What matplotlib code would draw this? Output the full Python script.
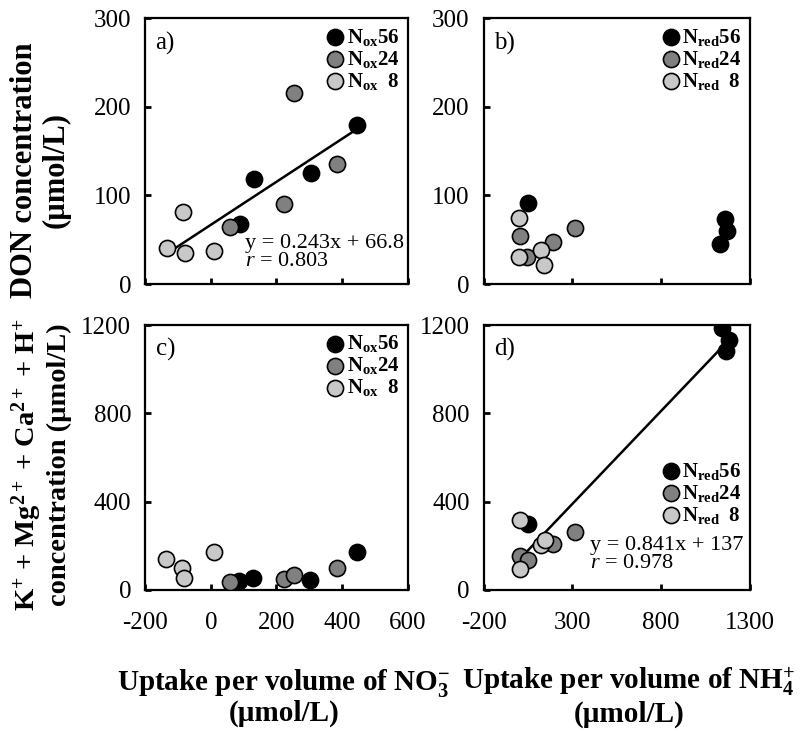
import numpy as np
import matplotlib
matplotlib.use('Agg')
import matplotlib.pyplot as plt

plt.rcParams['font.family'] = ['Liberation Serif', 'DejaVu Serif']
plt.rcParams['mathtext.fontset'] = 'custom'
plt.rcParams['mathtext.rm'] = 'Liberation Serif'
plt.rcParams['mathtext.it'] = 'Liberation Serif:italic'
plt.rcParams['mathtext.bf'] = 'Liberation Serif:bold'
plt.rcParams['axes.unicode_minus'] = False

# ---- data ----
# a) DON vs NO3- uptake
a_x56 = [88, 131, 305, 446]
a_y56 = [68, 119, 125, 180]
a_x24 = [60, 222, 254, 384]
a_y24 = [64, 90, 216, 135]
a_x8 = [-134, -86, -79, 9]
a_y8 = [41, 81, 35, 37]

# b) DON vs NH4+ uptake
b_x56 = [49, 1159, 1174, 1136]
b_y56 = [92, 73, 60, 45]
b_x24 = [6, 44, 191, 314]
b_y24 = [54, 30, 48, 63]
b_x8 = [2, 2, 121, 138]
b_y8 = [74, 30, 38, 21]

# c) cations vs NO3- uptake
c_x56 = [86, 128, 301, 444]
c_y56 = [41, 53, 45, 171]
c_x24 = [60, 222, 254, 384]
c_y24 = [38, 50, 66, 98]
c_x8 = [-136, -87, -82, 9]
c_y8 = [140, 101, 53, 171]

# d) cations vs NH4+ uptake
d_x56 = [1146, 1183, 1165, 49]
d_y56 = [1185, 1131, 1081, 298]
d_x24 = [6, 49, 191, 318]
d_y24 = [154, 134, 208, 261]
d_x8 = [6, 8, 121, 146]
d_y8 = [318, 96, 203, 226]

fit_a = (0.243, 66.8, 0.803)
fit_d = (0.841, 137, 0.978)

colors = ['black', '#808080', '#c8c8c8']
lab_ox = [r'$\mathbf{N_{ox}56}$', r'$\mathbf{N_{ox}24}$', r'$\mathbf{N_{ox}\ \ 8}$']
lab_red = [r'$\mathbf{N_{red}56}$', r'$\mathbf{N_{red}24}$', r'$\mathbf{N_{red}\ \ 8}$']

fig = plt.figure(figsize=(8.06, 7.32), dpi=100)
ax_a = fig.add_axes([0.180, 0.612, 0.326, 0.363])
ax_b = fig.add_axes([0.600, 0.612, 0.330, 0.363])
ax_c = fig.add_axes([0.180, 0.194, 0.326, 0.362])
ax_d = fig.add_axes([0.600, 0.194, 0.330, 0.362])


def draw(ax, xs, ys, labels, letter):
    for x, y, c, l in zip(xs, ys, colors, labels):
        ax.scatter(x, y, s=135, c=c, edgecolors='black', linewidths=1.2, label=l, zorder=3)
    ax.text(0.04, 0.95, letter, transform=ax.transAxes, fontsize=18, va='top', ha='left')
    for s in ax.spines.values():
        s.set_linewidth(1.6)
    ax.tick_params(direction='in', length=4, width=2, labelsize=18, top=False, right=False)
    ax.tick_params(axis='y', pad=10)
    ax.tick_params(axis='x', pad=16)


def fitline(ax, xs, fit, pos):
    allx = np.concatenate([np.asarray(v) for v in xs])
    xx = np.array([allx.min(), allx.max()])
    ax.plot(xx, fit[0] * xx + fit[1], color='black', lw=1.8, zorder=2)
    ax.text(pos[0], pos[1], 'y = %.3gx + %g\n$r$ = %.3f' % (fit[0], fit[1], fit[2]),
            transform=ax.transAxes, fontsize=16, va='top', ha='left', linespacing=0.95)


draw(ax_a, [a_x56, a_x24, a_x8], [a_y56, a_y24, a_y8], lab_ox, 'a)')
draw(ax_b, [b_x56, b_x24, b_x8], [b_y56, b_y24, b_y8], lab_red, 'b)')
draw(ax_c, [c_x56, c_x24, c_x8], [c_y56, c_y24, c_y8], lab_ox, 'c)')
draw(ax_d, [d_x56, d_x24, d_x8], [d_y56, d_y24, d_y8], lab_red, 'd)')

fitline(ax_a, [a_x56, a_x24, a_x8], fit_a, (0.38, 0.19))
fitline(ax_d, [d_x56, d_x24, d_x8], fit_d, (0.40, 0.205))

for ax in (ax_a, ax_c):
    ax.set_xlim(-200, 600)
    ax.set_xticks([-200, 0, 200, 400, 600])
for ax in (ax_b, ax_d):
    ax.set_xlim(-200, 1300)
    ax.set_xticks([-200, 300, 800, 1300])
for ax in (ax_a, ax_b):
    ax.set_ylim(0, 300)
    ax.set_yticks([0, 100, 200, 300])
    ax.tick_params(axis='x', labelbottom=False)
for ax in (ax_c, ax_d):
    ax.set_ylim(0, 1200)
    ax.set_yticks([0, 400, 800, 1200])

leg_kw = dict(frameon=False, fontsize=15, handletextpad=0.05, labelspacing=0.05,
              borderpad=0.2, handlelength=1.0, borderaxespad=0.2)
ax_a.legend(loc='upper right', **leg_kw)
ax_b.legend(loc='upper right', **leg_kw)
ax_c.legend(loc='upper right', **leg_kw)
ax_d.legend(loc='upper right', bbox_to_anchor=(1.0, 0.52), **leg_kw)

fig.text(0.05, 0.768, 'DON concentration\n(µmol/L)', rotation=90, fontsize=22,
         fontweight='bold', ha='center', va='center', multialignment='center',
         linespacing=1.1)
fig.text(0.05, 0.365,
         r'K$^{\mathbf{+}}$ + Mg$^{\mathbf{2+}}$ + Ca$^{\mathbf{2+}}$ + H$^{\mathbf{+}}$' + '\nconcentration (µmol/L)',
         rotation=90, fontsize=20.5, fontweight='bold', ha='center', va='center',
         multialignment='center', linespacing=1.15)
fig.text(0.352, 0.048, r'Uptake per volume of NO$_{\mathbf{3}}^{\mathbf{-}}$' + '\n(µmol/L)',
         fontsize=21, fontweight='bold', ha='center', va='center', multialignment='center',
         linespacing=1.05)
fig.text(0.78, 0.048, r'Uptake per volume of NH$_{\mathbf{4}}^{\mathbf{+}}$' + '\n(µmol/L)',
         fontsize=21, fontweight='bold', ha='center', va='center', multialignment='center',
         linespacing=1.05)

fig.savefig('out.png', dpi=100)
